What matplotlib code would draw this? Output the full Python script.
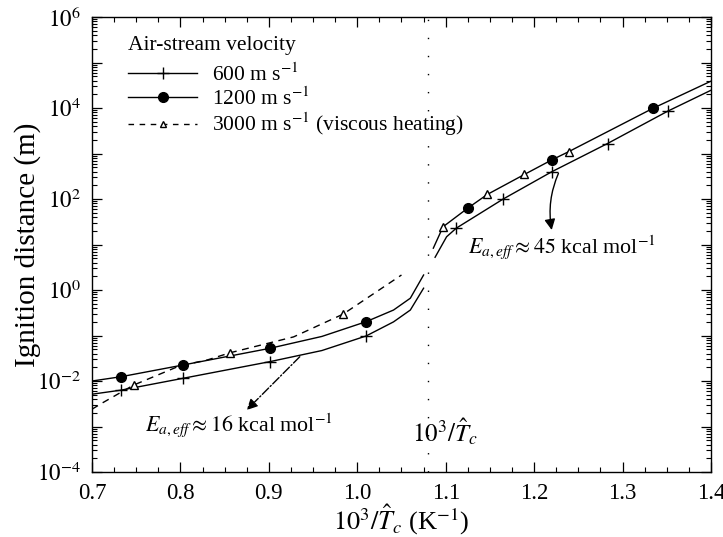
import numpy as np
import matplotlib
matplotlib.use("Agg")
import matplotlib.pyplot as plt
from matplotlib.ticker import LogLocator, MultipleLocator, FuncFormatter, NullFormatter

plt.rcParams['font.family'] = 'serif'
plt.rcParams['font.serif'] = ['Liberation Serif', 'DejaVu Serif']
plt.rcParams['mathtext.fontset'] = 'stix'

# curves, x = 10^3/Tc (1/K), log10 of ignition distance (m)
x600_lo = [0.700, 0.733, 0.803, 0.901, 0.960, 1.010, 1.041, 1.060, 1.075]
ly600_lo = [-2.29, -2.20, -1.94, -1.575, -1.33, -1.01, -0.70, -0.44, 0.04]
x600_hi = [1.088, 1.101, 1.112, 1.165, 1.220, 1.283, 1.351, 1.401]
ly600_hi = [0.72, 1.17, 1.36, 2.00, 2.60, 3.22, 3.93, 4.40]

x1200_lo = [0.700, 0.733, 0.803, 0.901, 0.960, 1.010, 1.041, 1.060, 1.075]
ly1200_lo = [-2.00, -1.905, -1.648, -1.282, -1.02, -0.696, -0.44, -0.18, 0.33]
x1200_hi = [1.086, 1.097, 1.125, 1.147, 1.189, 1.220, 1.239, 1.334, 1.401]
ly1200_hi = [0.92, 1.39, 1.80, 2.10, 2.54, 2.86, 3.04, 3.99, 4.60]

x3000_lo = [0.700, 0.711, 0.747, 0.800, 0.830, 0.856, 0.928, 0.984, 1.050]
ly3000_lo = [-2.62, -2.49, -2.09, -1.66, -1.54, -1.38, -1.03, -0.53, 0.33]

# marker positions
mx600 = [0.733, 0.803, 0.901, 1.010, 1.112, 1.165, 1.220, 1.283, 1.351]
mly600 = [-2.20, -1.94, -1.575, -1.01, 1.36, 2.00, 2.60, 3.22, 3.93]
mx1200 = [0.733, 0.803, 0.901, 1.010, 1.125, 1.220, 1.334]
mly1200 = [-1.905, -1.648, -1.282, -0.696, 1.80, 2.86, 3.99]
mx3000 = [0.747, 0.856, 0.984, 1.097, 1.147, 1.189, 1.239]
mly3000 = [-2.09, -1.38, -0.53, 1.39, 2.10, 2.54, 3.04]

x_crit = 1.08

def p10(v):
    return 10.0 ** np.asarray(v)

fig = plt.figure(figsize=(7.23, 5.37), dpi=100)
ax = fig.add_axes([0.1272, 0.1210, 0.8562, 0.8473])

lw = 1.0
ax.plot(x600_lo, p10(ly600_lo), 'k-', lw=lw)
ax.plot(x600_hi, p10(ly600_hi), 'k-', lw=lw)
ax.plot(x1200_lo, p10(ly1200_lo), 'k-', lw=lw)
ax.plot(x1200_hi, p10(ly1200_hi), 'k-', lw=lw)
ax.plot(x3000_lo, p10(ly3000_lo), 'k--', lw=lw, dashes=(5, 4))

ax.plot(mx600, p10(mly600), 'k+', ms=8, mew=1.0)
ax.plot(mx1200, p10(mly1200), 'ko', ms=7)
ax.plot(mx3000, p10(mly3000), '^', ms=6, mfc='white', mec='k', mew=1.0)

ax.axvline(x_crit, color='k', lw=1.0, ls=(0, (1, 12)))

# legend handles
h1, = ax.plot([], [], 'k-', lw=lw, marker='+', ms=8, mew=1.0)
h2, = ax.plot([], [], 'k-', lw=lw, marker='o', ms=7)
h3, = ax.plot([], [], 'k--', lw=lw, dashes=(4, 4), marker='^', ms=5, mfc='white', mec='k')
leg = ax.legend([h1, h2, h3],
                [r'600 m s$^{-1}$', r'1200 m s$^{-1}$', r'3000 m s$^{-1}$ (viscous heating)'],
                title='Air-stream velocity', loc='upper left',
                bbox_to_anchor=(0.045, 0.977), frameon=False, fontsize=15.5,
                title_fontsize=15.5, numpoints=1, handlelength=3.2,
                handletextpad=0.7, labelspacing=0.05, alignment='left',
                borderaxespad=0.0)
leg._legend_box.sep = 6

# activation energy notes
ax.annotate('', xy=(0.875, p10(-2.637)), xytext=(0.935, p10(-1.466)),
            arrowprops=dict(arrowstyle='-|>', color='k', lw=1.0, ls='-.',
                            mutation_scale=16, shrinkA=0, shrinkB=0))
ax.text(0.760, p10(-2.967), r'$E_{a,eff} \approx 16$ kcal mol$^{-1}$',
        fontsize=15.8, va='center', ha='left')

ax.annotate('', xy=(1.2199, p10(1.319)), xytext=(1.2275, p10(2.565)),
            arrowprops=dict(arrowstyle='-|>', color='k', lw=1.0,
                            mutation_scale=16, shrinkA=0, shrinkB=0,
                            connectionstyle='arc3,rad=0.15'))
ax.text(1.1253, p10(0.945), r'$E_{a,eff} \approx 45$ kcal mol$^{-1}$',
        fontsize=15.8, va='center', ha='left')

ax.text(1.062, p10(-3.12), r'$10^3/\hat{T}_c$', fontsize=18, va='center', ha='left')

ax.set_yscale('log')
ax.set_xlim(0.7, 1.4)
ax.set_ylim(1e-4, 1e6)

ax.xaxis.set_major_locator(MultipleLocator(0.1))
ax.xaxis.set_minor_locator(MultipleLocator(0.025))
ax.xaxis.set_major_formatter(FuncFormatter(lambda v, p: '%.1f' % v))
ax.yaxis.set_major_locator(LogLocator(base=10, numticks=20))
ax.yaxis.set_minor_locator(LogLocator(base=10, subs=np.arange(2, 10), numticks=20))
ax.yaxis.set_minor_formatter(NullFormatter())

def ylab(v, pos):
    e = int(round(np.log10(v)))
    if e % 2:
        return ''
    return r'$10^{%d}$' % e

ax.yaxis.set_major_formatter(FuncFormatter(ylab))

ax.tick_params(which='both', direction='in', top=True, right=True, labelsize=16.5)
ax.tick_params(which='major', length=7, width=0.9, pad=8)
ax.tick_params(which='minor', length=3.5, width=0.8)
for s in ax.spines.values():
    s.set_linewidth(1.0)

ax.set_xlabel(r'$10^3/\hat{T}_c$ (K$^{-1}$)', fontsize=19)
ax.xaxis.set_label_coords(0.5, -0.066)
ax.set_ylabel('Ignition distance (m)', fontsize=21)
ax.yaxis.set_label_coords(-0.082, 0.5)

fig.savefig('out.png', dpi=100)
